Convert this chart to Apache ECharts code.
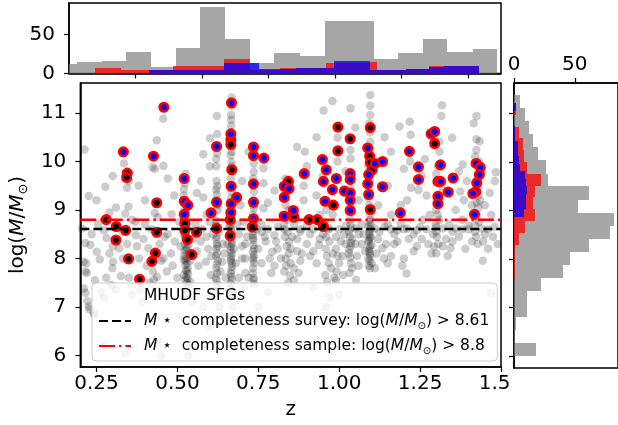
<!DOCTYPE html>
<html>
<head>
<meta charset="utf-8">
<script src="https://cdn.jsdelivr.net/npm/echarts@6/dist/echarts.min.js"></script>
<style>
  html, body { margin: 0; padding: 0; background: #fff; }
  #chart { width: 618px; height: 425px; }
</style>
</head>
<body>
<div id="chart"></div>
<script>
// axis ranges / ticks
const zMin = 0.2, zMax = 1.5;
const mMin = 5.76, mMax = 11.62;
const zTicks = [0.25, 0.5, 0.75, 1.0, 1.25, 1.5];
const zTicksTop = [0.4, 0.6, 0.8, 1.0, 1.2, 1.4];
const mTicks = [6, 7, 8, 9, 10, 11];
const countTicks = [0, 50];

// completeness limits
const mSurvey = 8.61;
const mSample = 8.8;

// all MHUDF SFGs (z, logM)
const sfgAll = [
  [0.213,10.25],[0.226,9.29],[0.277,9.48],[0.206,8.62],[0.215,8.32],[0.231,8.28],[0.251,8.14],[0.281,8.42],[0.272,8.58],[0.29,8.1],
  [0.21,7.93],[0.218,7.9],[0.216,7.73],[0.22,7.7],[0.26,7.98],[0.211,7.38],[0.216,7.29],[0.222,7.12],[0.226,7.01],[0.228,6.95],
  [0.241,6.87],[0.244,6.84],[0.273,7.19],[0.296,7.45],[0.273,6.19],[0.28,7.6],[0.299,7.8],
  [0.335,9.96],[0.344,9.46],[0.35,9.6],[0.349,9.07],[0.339,8.92],[0.31,9.05],[0.36,8.8],[0.33,8.55],[0.345,8.3],
  [0.301,7.93],[0.32,8.21],[0.332,8.0],[0.31,7.36],[0.325,7.64],[0.338,6.05],[0.35,7.6],[0.36,7.25],[0.372,8.48],[0.382,8.0],
  [0.39,7.1],[0.384,7.36],[0.41,8.21],[0.40,8.7],[0.42,8.6],[0.424,7.73],[0.427,7.56],[0.432,7.38],[0.436,10.44],[0.456,10.88],
  [0.423,9.88],[0.43,9.85],[0.457,9.91],[0.43,8.94],[0.44,8.85],[0.457,8.0],[0.467,7.73],[0.47,8.5],[0.44,6.3],[0.45,5.99],
  [0.482,8.91],[0.45,7.95],[0.437,7.62],
  [0.492,8.35],[0.50,7.6],[0.506,8.75],[0.51,8.25],[0.51,6.8],[0.52,9.43],[0.52,9.3],[0.523,9.0],[0.52,8.5],[0.525,8.48],
  [0.53,8.35],[0.522,8.3],[0.53,8.21],[0.535,8.1],[0.528,8.0],[0.524,7.95],[0.525,7.87],[0.532,7.8],[0.53,7.73],[0.52,7.66],
  [0.527,7.62],[0.54,7.52],[0.535,7.45],[0.525,7.38],[0.52,7.2],[0.545,7.1],[0.54,7.95],[0.548,8.05],[0.55,6.7],[0.556,8.7],
  [0.534,5.99],[0.548,8.4],[0.53,8.62],[0.518,8.9],
  [0.573,9.60],[0.580,9.26],[0.575,8.6],[0.572,8.35],[0.58,7.0],[0.588,7.93],[0.59,8.9],[0.6,8.75],[0.6,7.2],[0.6,6.6],
  [0.603,7.66],[0.601,10.48],[0.61,8.5],[0.622,10.94],[0.623,10.57],[0.623,10.17],[0.62,10.05],[0.623,9.49],[0.62,9.42],[0.622,9.32],
  [0.62,9.2],[0.625,9.0],[0.62,8.4],[0.622,8.3],[0.62,8.2],[0.623,8.1],[0.625,7.95],[0.62,7.8],[0.618,7.6],[0.625,7.45],
  [0.62,7.3],[0.63,7.0],[0.638,7.93],[0.633,7.73],[0.62,8.68],[0.628,8.55],[0.64,8.3],
  [0.668,11.32],[0.668,11.15],[0.666,10.96],[0.666,10.86],[0.666,10.74],[0.667,10.61],[0.664,10.44],[0.668,10.30],[0.665,10.13],[0.667,9.99],
  [0.668,9.90],[0.665,9.65],[0.667,9.38],[0.666,9.24],[0.668,9.07],[0.664,8.9],[0.667,8.76],[0.66,8.65],[0.668,8.55],[0.665,8.48],
  [0.668,8.35],[0.664,8.24],[0.668,8.11],[0.665,8.0],[0.668,7.90],[0.668,7.83],[0.665,7.69],[0.668,7.56],[0.665,7.38],[0.667,7.21],
  [0.67,7.0],[0.665,6.8],[0.655,8.3],[0.675,8.2],[0.68,7.9],[0.69,8.5],[0.7,8.0],[0.71,7.7],[0.685,8.7],[0.695,9.1],[0.71,8.3],
  [0.736,9.96],[0.736,9.79],[0.734,9.65],[0.736,9.38],[0.735,9.21],[0.737,9.03],[0.733,8.9],[0.766,9.86],[0.766,9.55],[0.766,9.03],
  [0.733,8.48],[0.735,8.38],[0.735,8.28],[0.733,8.14],[0.736,8.07],[0.735,7.97],[0.734,7.8],[0.735,7.6],[0.737,7.47],[0.71,8.0],
  [0.72,7.6],[0.705,8.75],[0.76,8.7],[0.773,8.35],[0.793,8.14],[0.8,8.48],[0.78,7.3],[0.75,7.0],[0.76,8.55],[0.745,8.6],
  [0.78,8.6],[0.79,7.7],[0.72,10.2],
  [0.81,8.2],[0.82,8.0],[0.83,7.73],[0.834,9.65],[0.834,9.38],[0.834,9.1],[0.83,8.7],[0.84,8.55],[0.845,8.35],[0.85,8.2],
  [0.835,8.0],[0.85,7.9],[0.86,7.8],[0.842,7.5],[0.87,8.4],[0.88,8.6],[0.894,10.20],[0.89,9.2],[0.9,8.8],[0.91,8.5],
  [0.86,8.7],[0.88,8.55],[0.9,8.68],[0.86,7.55],[0.89,9.5],[0.885,8.1],[0.81,8.65],[0.825,8.9],
  [0.979,11.25],[0.952,11.05],[0.937,8.28],[0.957,7.66],[0.962,7.52],[0.992,7.73],[0.99,7.55],[0.995,10.49],[0.995,10.0],[0.96,9.0],
  [0.98,8.9],[0.95,8.5],[0.97,8.35],[0.99,8.2],[0.995,8.05],[1.0,7.9],[0.98,8.1],[0.96,8.45],[0.94,8.9],[0.93,9.3],
  [0.97,7.2],[0.92,7.4],[0.96,7.0],[1.0,7.25],[0.92,8.6],[0.945,8.72],[1.0,8.6],[0.97,8.62],[0.95,9.7],[0.93,10.5],
  [1.012,7.66],[1.035,11.10],[1.035,10.24],[1.035,10.06],[1.035,9.45],[1.03,9.0],[1.035,8.7],[1.03,8.55],[1.04,8.4],[1.035,8.25],
  [1.03,8.1],[1.052,7.56],[1.04,7.8],[1.06,8.5],[1.02,8.3],[1.02,8.68],[1.05,8.62],[1.07,8.7],[1.02,9.8],[1.06,9.2],[1.04,8.95],
  [1.096,11.37],[1.096,11.15],[1.096,10.96],[1.093,10.79],[1.096,10.41],[1.096,10.25],[1.09,9.9],[1.095,9.6],[1.09,9.25],[1.093,9.1],
  [1.096,8.9],[1.093,8.75],[1.09,8.65],[1.095,8.6],[1.093,8.5],[1.095,8.42],[1.09,8.35],[1.1,8.28],[1.093,8.2],[1.095,8.1],
  [1.09,8.0],[1.1,7.9],[1.095,7.8],[1.07,8.3],[1.12,8.4],[1.133,8.21],[1.138,8.0],[1.11,7.8],[1.11,8.62],[1.14,8.66],
  [1.12,9.1],[1.13,9.5],
  [1.186,10.72],[1.218,10.82],[1.221,10.55],[1.219,10.0],[1.222,9.46],[1.245,9.41],[1.208,7.69],[1.15,8.7],[1.17,8.5],[1.2,8.6],
  [1.23,8.5],[1.25,8.65],[1.16,8.9],[1.19,9.1],[1.21,9.2],[1.15,9.5],[1.16,8.6],[1.18,8.58],[1.19,8.72],[1.21,8.62],
  [1.24,8.58],[1.17,8.3],[1.24,8.25],[1.2,8.0],[1.15,7.9],
  [1.318,11.16],[1.316,10.94],[1.31,10.41],[1.31,10.2],[1.30,9.75],[1.293,8.24],[1.30,8.65],[1.31,8.8],[1.30,9.0],[1.31,9.2],
  [1.32,9.4],[1.29,8.5],[1.28,8.9],[1.27,8.6],[1.3,8.55],[1.32,8.62],[1.34,8.7],[1.33,8.4],[1.3,8.1],[1.27,9.3],
  [1.349,10.49],[1.382,9.94],[1.424,10.94],[1.416,10.79],[1.424,10.46],[1.434,10.42],[1.424,10.24],[1.42,10.1],[1.484,9.78],[1.481,9.6],
  [1.374,9.38],[1.385,9.2],[1.344,8.21],[1.444,7.95],[1.469,7.28],[1.4,8.6],[1.42,8.7],[1.45,8.5],[1.38,8.8],[1.35,8.55],
  [1.43,9.3],[1.41,9.1],[1.47,8.9],[1.36,9.0],[1.43,9.5],[1.36,8.62],[1.38,8.6],[1.4,8.68],[1.42,8.55],[1.44,8.62],
  [1.46,8.6],[1.48,8.65],[1.425,9.15],[1.44,9.8],
  // denser parts of the redshift spikes
  [0.523,8.42],[0.527,8.18],[0.521,8.05],[0.53,7.9],[0.526,7.76],[0.533,7.68],[0.524,7.55],[0.529,7.5],[0.522,8.15],[0.534,8.28],
  [0.52,7.98],[0.531,7.58],[0.527,9.1],[0.523,9.55],[0.525,9.75],
  [0.621,8.45],[0.624,8.25],[0.619,8.05],[0.622,7.88],[0.623,7.7],[0.621,7.55],[0.62,7.4],[0.623,8.6],[0.619,8.78],[0.624,9.1],
  [0.621,9.6],[0.62,9.9],
  [0.666,8.42],[0.668,8.3],[0.664,8.17],[0.667,8.05],[0.665,7.95],[0.667,7.75],[0.666,7.62],[0.664,7.48],[0.668,7.3],[0.666,8.6],
  [0.664,8.7],[0.668,9.15],[0.665,9.5],[0.667,10.2],[0.665,10.5],
  [0.734,8.42],[0.737,8.2],[0.735,8.02],[0.736,7.9],[0.733,7.7],[0.736,7.55],[0.734,8.55],[0.737,8.7],[0.735,9.1],[0.734,9.5],
  [0.832,8.45],[0.838,8.25],[0.844,8.1],[0.836,7.85],[0.848,7.65],[0.83,8.6],[0.84,8.8],[0.845,9.0],[0.855,8.45],
  [0.958,8.2],[0.962,8.05],[0.968,7.9],[0.975,7.8],[0.985,7.6],[0.965,8.6],[0.955,8.75],[0.99,8.45],
  [1.033,8.45],[1.036,8.32],[1.031,8.18],[1.034,8.02],[1.037,7.9],[1.032,7.7],[1.035,8.62],[1.033,8.8],[1.036,9.2],[1.034,9.6],
  [1.094,8.55],[1.097,8.45],[1.092,8.38],[1.095,8.25],[1.093,8.15],[1.096,8.05],[1.094,7.95],[1.092,7.85],[1.097,8.7],[1.095,8.8],
  [1.094,9.4],[1.096,9.75],[1.093,10.0],[1.095,10.6],
  [1.302,8.45],[1.306,8.3],[1.298,8.7],[1.304,8.9],[1.308,9.1],[1.31,9.55],[1.305,9.9],
  [1.423,8.45],[1.428,8.3],[1.432,8.75],[1.426,8.9],[1.43,9.05],[1.435,9.2],[1.428,9.65],[1.432,10.0],
  // field galaxies between the spikes
  [0.235,8.5],[0.255,8.7],[0.245,7.55],[0.265,7.3],[0.29,8.95],[0.3,8.25],[0.37,8.75],[0.375,8.25],[0.395,8.4],[0.405,7.85],
  [0.415,7.5],[0.445,8.3],[0.46,8.45],[0.48,8.1],[0.485,7.85],[0.56,8.15],[0.565,7.85],[0.59,8.45],[0.595,8.2],[0.605,8.05],
  [0.645,8.1],[0.65,7.6],[0.69,7.6],[0.7,8.25],[0.705,7.4],[0.715,8.45],[0.75,8.2],[0.76,7.9],[0.77,8.45],[0.785,8.0],
  [0.8,7.85],[0.805,8.35],[0.87,8.15],[0.875,7.7],[0.88,7.95],[0.9,8.3],[0.91,8.05],[0.92,8.15],[0.93,7.9],[0.94,8.4],
  [1.005,8.35],[1.01,8.05],[1.015,8.5],[1.05,8.3],[1.055,8.05],[1.06,7.85],[1.075,8.5],[1.08,8.15],[1.115,8.1],[1.125,8.55],
  [1.145,8.3],[1.16,8.05],[1.18,8.35],[1.195,7.85],[1.215,8.4],[1.23,8.15],[1.255,8.4],[1.26,8.8],[1.275,8.3],[1.285,8.1],
  [1.32,8.25],[1.335,8.05],[1.35,8.35],[1.37,8.45],[1.39,8.2],[1.41,8.35],[1.445,8.35],[1.46,8.2],[1.475,8.45],[1.49,8.3],
  [1.45,9.1],[1.465,9.35],[1.395,9.6],[1.37,9.8],[1.255,9.7],[1.265,10.05],[1.2,9.85],[1.16,10.2],[1.14,10.5],[1.05,10.7],
  [0.9,9.9],[0.87,10.3],[0.8,9.4],[0.78,9.15],[0.7,9.6],[0.6,9.9],[0.58,10.15],[0.56,9.35],[0.49,9.3],[0.47,9.65],
  [0.4,9.2],[0.38,9.5],[0.3,9.7],[0.25,9.2]
];

// sample galaxies, blue centre
const sampleBlue = [
  [0.333,10.20],[0.426,10.11],[0.458,11.12],[0.521,9.65],[0.521,9.18],[0.532,9.10],[0.521,8.91],[0.604,8.94],[0.621,9.16],[0.621,10.31],
  [0.667,11.21],[0.665,10.57],[0.666,9.49],[0.683,9.26],[0.666,9.13],[0.665,8.95],[0.735,10.30],[0.735,10.12],[0.767,10.07],[0.735,9.54],
  [0.735,9.16],[0.735,8.82],[0.83,9.49],[0.845,9.44],[0.83,9.26],[0.858,8.99],[0.83,8.87],[0.892,9.75],[0.948,10.04],[0.96,9.83],
  [0.951,9.59],[0.979,9.42],[0.956,9.18],[0.991,9.65],[1.016,9.39],[1.034,9.75],[1.034,9.63],[1.034,9.35],[1.034,9.20],[1.034,8.99],
  [1.088,10.28],[1.091,9.73],[1.088,9.54],[1.091,9.32],[1.111,9.96],[1.134,10.00],[1.134,9.48],[1.189,8.94],[1.217,10.21],[1.245,9.89],
  [1.245,9.63],[1.284,10.57],[1.295,10.62],[1.313,9.93],[1.305,9.59],[1.313,9.59],[1.305,9.28],[1.305,9.13],[1.337,9.37],[1.352,9.66],
  [1.423,9.96],[1.436,9.88],[1.433,9.73],[1.425,9.56],[1.422,9.38],[1.413,9.34],[1.418,8.91]
];

// sample galaxies, black centre
const sampleBlack = [
  [0.28,8.80],[0.311,8.66],[0.345,9.76],[0.343,9.67],[0.31,8.38],[0.34,8.58],[0.349,7.99],[0.383,7.57],[0.436,9.15],[0.436,8.54],
  [0.432,8.11],[0.421,7.94],[0.523,8.72],[0.523,8.58],[0.531,8.39],[0.544,8.08],[0.559,8.54],[0.621,8.62],[0.665,10.45],[0.665,10.35],
  [0.668,9.83],[0.663,8.80],[0.663,8.47],[0.731,8.65],[0.843,9.59],[0.86,8.85],[0.907,8.80],[0.932,8.80],[0.951,8.66],[0.982,9.10],
  [0.996,10.71],[0.996,10.22],[1.034,10.47],[1.096,10.70],[1.094,10.11],[1.096,9.98],[1.096,9.01],[1.102,9.83],[1.295,10.37]
];

// redshift histograms (bin edges, counts)
const zGrayEdges = [0.149,0.223,0.298,0.372,0.446,0.521,0.595,0.669,0.744,0.818,0.894,0.969,1.043,1.117,1.191,1.265,1.339,1.415,1.488];
const zGrayCounts = [12,15,16,27,8,33,85,44,14,26,22,67,67,18,26,44,28,31];
const zRedEdges = [0.279,0.357,0.435,0.512,0.589,0.666,0.744,0.836,0.884,0.974,1.105,1.127,1.215,1.282,1.327,1.435];
const zRedCounts = [7,4,4,10,9,18,5,7,7,14,15,4,6,9,9];
const zBlueEdges = [0.335,0.442,0.510,0.665,0.773,0.836,0.884,0.996,1.105,1.215,1.282,1.327,1.435];
const zBlueCounts = [1,5,5,14,6,6,7,16,4,6,8,9];

// mass histograms (bin edges, counts)
const mGrayEdges = [6.014,6.282,6.549,6.817,7.084,7.352,7.619,7.887,8.154,8.422,8.689,8.957,9.224,9.492,9.759,10.027,10.294,10.562,10.829,11.097,11.364];
const mGrayCounts = [18,1,2,11,11,22,40,46,62,79,82,53,62,28,26,20,16,12,9,5];
const mRedEdges = [7.570,7.813,8.055,8.298,8.541,8.783,9.026,9.269,9.511,9.754,9.997,10.240,10.482,10.725,10.968,11.21];
const mRedCounts = [1,1,1,4,9,17,16,17,22,11,8,7,4,0,2];
const mBlueEdges = [8.87,9.026,9.182,9.338,9.494,9.65,9.806,9.962,10.118,10.274,10.43,10.586,10.742,10.898,11.054,11.21];
const mBlueCounts = [8,10,10,11,10,9,5,4,3,3,1,1,0,0,2];

const FONT = 'DejaVu Sans';
const nameSurvey = 'M* completeness survey';
const nameSample = 'M* completeness sample';

function toBins(edges, counts) {
  return counts.map(function (c, i) { return [edges[i], edges[i + 1], c]; });
}

// one histogram bar between two pixel corners, snapped so neighbours share an edge
function barShape(params, a, b) {
  const x0 = Math.round(Math.min(a[0], b[0])), x1 = Math.round(Math.max(a[0], b[0]));
  const y0 = Math.round(Math.min(a[1], b[1])), y1 = Math.round(Math.max(a[1], b[1]));
  return echarts.graphic.clipRectByRect(
    {x: x0, y: y0, width: x1 - x0, height: y1 - y0},
    {x: params.coordSys.x, y: params.coordSys.y, width: params.coordSys.width, height: params.coordSys.height});
}
// top histogram: x = redshift range, y = count
function zHist(color) {
  return function (params, api) {
    const shape = barShape(params, api.coord([api.value(0), api.value(2)]), api.coord([api.value(1), 0]));
    return shape && {type: 'rect', shape: shape, style: {fill: color, lineWidth: 0}};
  };
}
// right histogram: y = mass range, x = count
function mHist(color) {
  return function (params, api) {
    const shape = barShape(params, api.coord([0, api.value(1)]), api.coord([api.value(2), api.value(0)]));
    return shape && {type: 'rect', shape: shape, style: {fill: color, lineWidth: 0}};
  };
}

const GRAY = 'rgba(128,128,128,0.7)';
const RED = 'rgba(255,0,0,0.75)';
const BLUE = 'rgba(0,0,255,0.75)';

const axisLine = {show: true, onZero: false, lineStyle: {color: '#000', width: 1.5}};
const tick = function (vals) {
  return {show: true, length: 5, customValues: vals, lineStyle: {color: '#000', width: 1.2}};
};
const label = function (vals, fmt, margin) {
  return {show: true, customValues: vals, formatter: fmt, fontSize: 20, fontFamily: FONT, color: '#000', margin: margin};
};
const hidden = {color: 'rgba(0,0,0,0)', borderColor: 'rgba(0,0,0,0)', borderWidth: 0};

const chart = echarts.init(document.getElementById('chart'));
const option = {
  animation: false,
  backgroundColor: '#fff',
  grid: [
    {left: 69, top: 83, width: 432, height: 285, show: true, borderColor: '#000', borderWidth: 1.5},
    {left: 69, top: 3, width: 432, height: 70.5, show: true, borderColor: '#000', borderWidth: 1.5},
    {left: 514, top: 83, width: 106, height: 285, show: true, borderColor: '#000', borderWidth: 1.5}
  ],
  xAxis: [
    {gridIndex: 0, type: 'value', min: zMin, max: zMax, axisLine: axisLine, splitLine: {show: false},
      axisTick: tick(zTicks), axisLabel: label(zTicks, function (v) { return v.toFixed(2); }, 7),
      name: 'z', nameLocation: 'middle', nameGap: 33,
      nameTextStyle: {fontSize: 20, fontFamily: FONT, color: '#000'}},
    {gridIndex: 1, type: 'value', min: zMin, max: zMax, axisLine: axisLine, splitLine: {show: false},
      axisTick: tick(zTicksTop), axisLabel: {show: false}},
    {gridIndex: 2, type: 'value', position: 'top', min: 0, max: 85.5, axisLine: axisLine, splitLine: {show: false},
      axisTick: tick(countTicks), axisLabel: label(countTicks, function (v) { return String(v); }, 8)}
  ],
  yAxis: [
    {gridIndex: 0, type: 'value', min: mMin, max: mMax, axisLine: axisLine, splitLine: {show: false},
      axisTick: tick(mTicks), axisLabel: label(mTicks, function (v) { return String(v); }, 14),
      name: '{n|log(}{i|M}{n|/}{i|M}{s|⊙}{n|)}', nameLocation: 'middle', nameRotate: 90, nameGap: 48,
      nameTextStyle: {fontSize: 20, fontFamily: FONT, color: '#000',
        rich: {
          n: {fontSize: 20, fontFamily: FONT, color: '#000'},
          i: {fontSize: 20, fontFamily: FONT, fontStyle: 'italic', color: '#000'},
          s: {fontSize: 13, fontFamily: FONT, color: '#000', verticalAlign: 'bottom', lineHeight: 24}
        }}},
    {gridIndex: 1, type: 'value', min: 0, max: 90, axisLine: axisLine, splitLine: {show: false},
      axisTick: tick(countTicks), axisLabel: label(countTicks, function (v) { return String(v); }, 14)},
    {gridIndex: 2, type: 'value', min: mMin, max: mMax, axisLine: axisLine, splitLine: {show: false},
      axisTick: tick(mTicks), axisLabel: {show: false}}
  ],
  legend: {
    orient: 'vertical', left: 92, top: 283,
    padding: [3, 8, 5, 6], itemGap: 5, itemWidth: 32, itemHeight: 14,
    backgroundColor: 'rgba(255,255,255,0.8)', borderColor: '#cccccc', borderWidth: 1, borderRadius: 4,
    selectedMode: false,
    textStyle: {fontSize: 15.5, fontFamily: FONT, color: '#000', lineHeight: 20, padding: [0, 0, 0, 8],
      rich: {
        i: {fontSize: 15.5, fontFamily: FONT, fontStyle: 'italic', color: '#000'},
        s: {fontSize: 10, fontFamily: FONT, color: '#000', verticalAlign: 'bottom', lineHeight: 20}
      }},
    formatter: function (name) {
      if (name === nameSurvey) return '{i|M} ⋆  completeness survey: log({i|M}/{i|M}{s|⊙}) > 8.61';
      if (name === nameSample) return '{i|M} ⋆  completeness sample: log({i|M}/{i|M}{s|⊙}) > 8.8';
      return name;
    },
    data: [
      {name: 'MHUDF SFGs', icon: 'circle', itemStyle: hidden},
      {name: nameSurvey, itemStyle: hidden},
      {name: nameSample, itemStyle: hidden}
    ]
  },
  graphic: [
    // the right panel hides the end of the last z label
    {type: 'rect', left: 510, top: 371, shape: {width: 40, height: 30}, style: {fill: '#fff'}, z: 100}
  ],
  series: [
    {type: 'custom', xAxisIndex: 1, yAxisIndex: 1, renderItem: zHist(GRAY), encode: {x: [0, 1], y: 2}, data: toBins(zGrayEdges, zGrayCounts), z: 2},
    {type: 'custom', xAxisIndex: 1, yAxisIndex: 1, renderItem: zHist(RED), encode: {x: [0, 1], y: 2}, data: toBins(zRedEdges, zRedCounts), z: 3},
    {type: 'custom', xAxisIndex: 1, yAxisIndex: 1, renderItem: zHist(BLUE), encode: {x: [0, 1], y: 2}, data: toBins(zBlueEdges, zBlueCounts), z: 4},
    {type: 'custom', xAxisIndex: 2, yAxisIndex: 2, renderItem: mHist(GRAY), encode: {x: 2, y: [0, 1]}, data: toBins(mGrayEdges, mGrayCounts), z: 2},
    {type: 'custom', xAxisIndex: 2, yAxisIndex: 2, renderItem: mHist(RED), encode: {x: 2, y: [0, 1]}, data: toBins(mRedEdges, mRedCounts), z: 3},
    {type: 'custom', xAxisIndex: 2, yAxisIndex: 2, renderItem: mHist(BLUE), encode: {x: 2, y: [0, 1]}, data: toBins(mBlueEdges, mBlueCounts), z: 4},
    {
      name: 'MHUDF SFGs', type: 'scatter', xAxisIndex: 0, yAxisIndex: 0,
      symbolSize: 8.5, itemStyle: {color: 'rgba(0,0,0,0.2)', opacity: 1}, data: sfgAll, z: 2
    },
    {
      type: 'scatter', xAxisIndex: 0, yAxisIndex: 0, symbolSize: 8.5,
      itemStyle: {color: '#000', borderColor: '#ff0000', borderWidth: 2.6, opacity: 1}, data: sampleBlack, z: 3
    },
    {
      type: 'scatter', xAxisIndex: 0, yAxisIndex: 0, symbolSize: 8.5,
      itemStyle: {color: '#0000ff', borderColor: '#ff0000', borderWidth: 2.6, opacity: 1}, data: sampleBlue, z: 3
    },
    {
      name: nameSurvey, type: 'line', xAxisIndex: 0, yAxisIndex: 0, symbol: 'none',
      lineStyle: {color: '#000', width: 2.5, type: [9, 4]},
      data: [[zMin, mSurvey], [zMax, mSurvey]], z: 5
    },
    {
      name: nameSample, type: 'line', xAxisIndex: 0, yAxisIndex: 0, symbol: 'none',
      lineStyle: {color: '#ff0000', width: 2.5, type: [16, 4, 2.5, 4]},
      data: [[zMin, mSample], [zMax, mSample]], z: 5
    }
  ]
};
chart.setOption(option);
</script>
</body>
</html>
